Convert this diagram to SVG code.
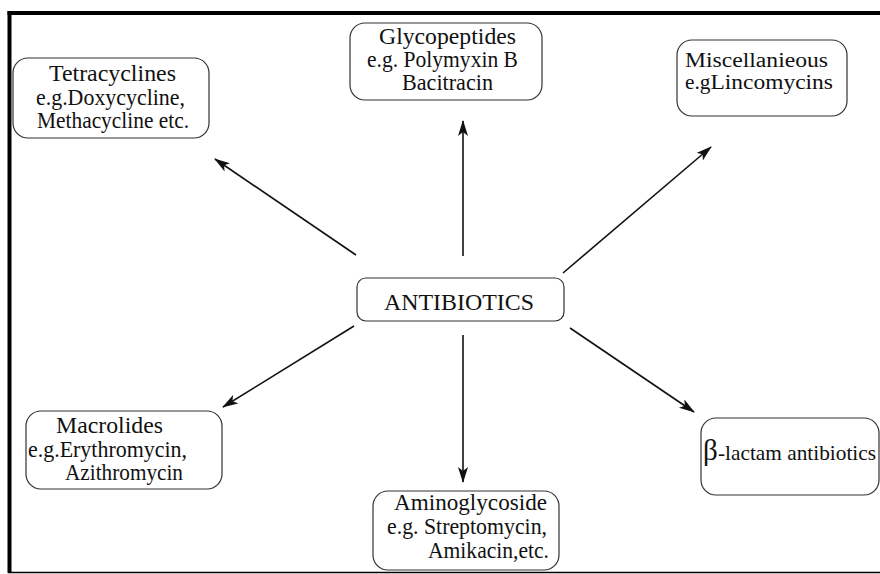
<svg xmlns="http://www.w3.org/2000/svg" width="880" height="574" viewBox="0 0 880 574">
<defs>
<style>
.box{fill:#fff;stroke:#333;stroke-width:1.2}
.t{font-family:"Liberation Serif","Times New Roman",serif;font-size:23px;fill:#111}
.c{stroke:#111;stroke-width:1.6;fill:none;marker-end:url(#ah)}
</style>
<marker id="ah" viewBox="0 0 16 10" refX="15" refY="5" markerWidth="16" markerHeight="10" markerUnits="userSpaceOnUse" orient="auto">
<path d="M0,0 L16,5 L0,10 L4,5 Z" fill="#111"/>
</marker>
</defs>
<rect x="0" y="0" width="880" height="574" fill="#fff"/>
<g id="frame">
<line x1="7.5" y1="13" x2="880" y2="13" stroke="#000" stroke-width="4"/>
<line x1="9.5" y1="11" x2="9.5" y2="573" stroke="#000" stroke-width="4"/>
<line x1="8" y1="572.5" x2="880" y2="572.5" stroke="#000" stroke-width="1.5"/>
</g>
<g id="connectors">
<line class="c" x1="356" y1="255" x2="215" y2="159"/>
<line class="c" x1="463" y1="256" x2="463" y2="121"/>
<line class="c" x1="563" y1="273" x2="711" y2="147"/>
<line class="c" x1="354" y1="326" x2="223" y2="407"/>
<line class="c" x1="463" y1="335" x2="463" y2="482"/>
<line class="c" x1="570" y1="328" x2="694" y2="412"/>
</g>
<g id="antibiotics">
<rect class="box" x="357" y="278" width="207" height="43" rx="9"/>
<text class="t" x="384" y="310" textLength="150" lengthAdjust="spacingAndGlyphs">ANTIBIOTICS</text>
</g>
<g id="tetracyclines">
<rect class="box" x="13" y="58" width="196" height="80" rx="15"/>
<text class="t" x="49" y="81" textLength="127" lengthAdjust="spacingAndGlyphs">Tetracyclines</text>
<text class="t" x="36" y="105" textLength="149" lengthAdjust="spacingAndGlyphs">e.g.Doxycycline,</text>
<text class="t" x="37" y="128" textLength="152" lengthAdjust="spacingAndGlyphs">Methacycline etc.</text>
</g>
<g id="glycopeptides">
<rect class="box" x="350" y="23" width="192" height="77" rx="15"/>
<text class="t" x="379" y="44" textLength="137" lengthAdjust="spacingAndGlyphs">Glycopeptides</text>
<text class="t" x="367" y="67" textLength="151" lengthAdjust="spacingAndGlyphs">e.g. Polymyxin B</text>
<text class="t" x="402" y="90" textLength="91" lengthAdjust="spacingAndGlyphs">Bacitracin</text>
</g>
<g id="miscellaneous">
<rect class="box" x="677" y="40" width="170" height="76" rx="15"/>
<text class="t" x="685" y="67" style="font-size:20px" textLength="143" lengthAdjust="spacingAndGlyphs">Miscellanieous</text>
<text class="t" x="685" y="89" style="font-size:20px" textLength="148" lengthAdjust="spacingAndGlyphs">e.g<tspan style="font-size:22px">Lincomycins</tspan></text>
</g>
<g id="macrolides">
<rect class="box" x="26" y="411" width="196" height="78" rx="15"/>
<text class="t" x="56" y="433" textLength="107" lengthAdjust="spacingAndGlyphs">Macrolides</text>
<text class="t" x="28" y="457" textLength="159" lengthAdjust="spacingAndGlyphs">e.g.Erythromycin,</text>
<text class="t" x="65" y="480" textLength="118" lengthAdjust="spacingAndGlyphs">Azithromycin</text>
</g>
<g id="aminoglycoside">
<rect class="box" x="373" y="491" width="186" height="79" rx="15"/>
<text class="t" x="394" y="510" textLength="153" lengthAdjust="spacingAndGlyphs">Aminoglycoside</text>
<text class="t" x="387" y="534" textLength="160" lengthAdjust="spacingAndGlyphs">e.g. Streptomycin,</text>
<text class="t" x="428" y="558" textLength="121" lengthAdjust="spacingAndGlyphs">Amikacin,etc.</text>
</g>
<g id="betalactam">
<rect class="box" x="701" y="418" width="178" height="77" rx="15"/>
<text class="t" x="703" y="460" style="font-size:29px">β</text>
<text class="t" x="718" y="460" style="font-size:22px" textLength="158" lengthAdjust="spacingAndGlyphs">-lactam antibiotics</text>
</g>
</svg>
